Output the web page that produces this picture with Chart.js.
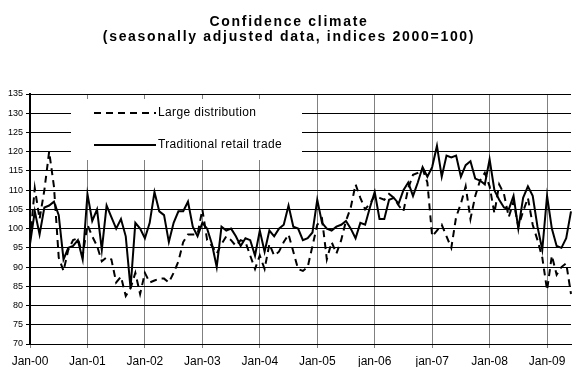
<!DOCTYPE html>
<html>
<head>
<meta charset="utf-8">
<script src="https://cdn.jsdelivr.net/npm/chart.js@4/dist/chart.umd.min.js"></script>
<style>
  html, body { margin: 0; padding: 0; background: #ffffff; }
  #wrap { width: 577px; height: 367px; position: relative; }
</style>
</head>
<body>
<div id="wrap"><canvas id="chart" width="577" height="367"></canvas></div>
<script>
// Axis labels shown once a year
const yearLabels = ['Jan-00', 'Jan-01', 'Jan-02', 'Jan-03', 'Jan-04', 'Jan-05', 'jan-06', 'jan-07', 'Jan-08', 'Jan-09'];
const monthNames = ['Jan', 'Feb', 'Mar', 'Apr', 'May', 'Jun', 'Jul', 'Aug', 'Sep', 'Oct', 'Nov', 'Dec'];
const monthCount = 114; // Jan 2000 .. Jun 2009

const titleLines = ['Confidence climate', '(seasonally adjusted data, indices 2000=100)'];
const seriesNames = ['Large distribution', 'Traditional retail trade'];

// Monthly confidence indices, 2000 = 100
const largeDistribution = [
  97, 110.5, 102.5, 110, 120, 111, 92.5, 89, 94.5, 97, 97.5, 93,
  101, 98, 95.5, 91.5, 92.5, 92, 86, 87.5, 82.5, 84.5, 88.5, 83,
  88.5, 86, 86.5, 87, 87, 86, 88.5, 91.5, 96.5, 98.5, 98.5, 98.5,
  105, 97, 95.5, 93.5, 96, 98, 97, 95.5, 97, 96.5, 93, 89.5,
  93, 89.5, 96, 93, 94, 96.5, 98.5, 94, 89.5, 89, 90, 95.5,
  101, 102.5, 92, 96.5, 93.5, 97, 102, 105.5, 111.5, 108, 105, 106.5,
  108.5, 108, 107.5, 109, 108, 106, 104.5, 110.5, 114, 114.5, 115.5, 112,
  98, 99.5, 101, 98, 95, 103, 106.5, 111, 102.5, 108.5, 112.5, 114.5,
  111, 104, 111.5, 109, 103, 107, 100.5, 104.5, 108, 101, 97, 92.5,
  84, 93, 88, 90, 91, 83
];

const traditionalRetail = [
  96, 104.5, 98.5, 105.5, 106, 107, 103.5, 92, 95, 95.5, 97, 92,
  109, 102, 105, 94.5, 106, 103, 100, 102.5, 98, 84.5, 101.5, 100,
  97.5, 101.5, 109.5, 104.5, 103.5, 96.5, 101.5, 104.5, 104.5, 107, 100.5, 98,
  101.5, 100, 96, 90, 100.5, 99.5, 100, 98, 95.5, 97.5, 97, 93,
  99.5, 94, 99.5, 98, 100, 101, 106, 100.5, 100, 97, 97.5, 99,
  107.5, 101.5, 100, 99.5, 100.5, 101, 102, 100, 97.5, 101.5, 101, 105.5,
  109.5, 102.5, 102.5, 107.5, 108, 106.5, 110, 112, 108.5, 112, 116, 113.5,
  116, 121.5, 113.5, 119, 118.5, 119, 113.5, 116.5, 117.5, 113, 112.5, 111.5,
  118, 110, 107.5, 105.5, 105, 108.5, 100, 108, 111, 108.5, 100.5, 94.5,
  108.5, 100, 95.5, 95, 97.5, 104.5
];

const monthLabels = [];
for (let i = 0; i < monthCount; i++) {
  monthLabels.push(monthNames[i % 12] + '-' + String(i / 12 | 0).padStart(2, '0'));
}

const FONT = "'Liberation Sans', Arial, sans-serif";

// Two-line bold heading with wide letter spacing
const titlePlugin = {
  id: 'headingText',
  afterDraw(chart) {
    const ctx = chart.ctx;
    ctx.save();
    ctx.fillStyle = '#000';
    ctx.font = 'bold 14px ' + FONT;
    ctx.letterSpacing = '1.7px';
    ctx.textAlign = 'center';
    ctx.textBaseline = 'middle';
    const cx = 289;
    ctx.fillText(titleLines[0], cx, 22);
    ctx.fillText(titleLines[1], cx, 37);
    ctx.restore();
  }
};

// Legend panel sitting inside the plot area, top left
const legendPlugin = {
  id: 'insetLegend',
  afterDatasetsDraw(chart) {
    const ctx = chart.ctx;
    const box = { x: 71, y: 99, w: 231, h: 61 };
    ctx.save();
    ctx.fillStyle = '#ffffff';
    ctx.fillRect(box.x, box.y, box.w, box.h);
    const rows = [
      { y: 113, dash: [7, 5], label: seriesNames[0] },
      { y: 145, dash: [], label: seriesNames[1] }
    ];
    ctx.strokeStyle = '#000';
    ctx.lineWidth = 2;
    ctx.fillStyle = '#000';
    ctx.font = '12px ' + FONT;
    ctx.letterSpacing = '0.35px';
    ctx.textBaseline = 'middle';
    ctx.textAlign = 'left';
    rows.forEach(r => {
      ctx.setLineDash(r.dash);
      ctx.beginPath();
      ctx.moveTo(94, r.y);
      ctx.lineTo(156, r.y);
      ctx.stroke();
      ctx.setLineDash([]);
      ctx.fillText(r.label, 158, r.y);
    });
    ctx.restore();
  }
};

new Chart(document.getElementById('chart'), {
  type: 'line',
  data: {
    labels: monthLabels,
    datasets: [
      {
        label: seriesNames[0],
        data: largeDistribution,
        borderColor: '#000',
        borderWidth: 2,
        borderDash: [7, 5],
        pointRadius: 0,
        tension: 0,
        fill: false
      },
      {
        label: seriesNames[1],
        data: traditionalRetail,
        borderColor: '#000',
        borderWidth: 2,
        pointRadius: 0,
        tension: 0,
        fill: false
      }
    ]
  },
  options: {
    responsive: false,
    animation: false,
    events: [],
    layout: { padding: { top: 94, right: 1, left: 0, bottom: 0 } },
    plugins: {
      legend: { display: false },
      title: { display: false },
      tooltip: { enabled: false }
    },
    scales: {
      x: {
        type: 'category',
        offset: false,
        grid: {
          color: c => (c.index % 12 === 0 ? '#808080' : 'rgba(0,0,0,0)'),
          lineWidth: 1,
          drawTicks: true,
          tickLength: 4
        },
        border: { display: true, color: '#000', width: 1 },
        ticks: {
          autoSkip: false,
          maxRotation: 0,
          minRotation: 0,
          padding: 6,
          color: '#000',
          font: { family: FONT, size: 12 },
          callback: (v, i) => (i % 12 === 0 ? yearLabels[i / 12] : '')
        },
        afterFit: s => { s.height = 23; }
      },
      y: {
        min: 70,
        max: 135,
        grid: { color: '#000', lineWidth: 1, tickLength: 4 },
        border: { display: true, color: '#000', width: 2 },
        ticks: {
          stepSize: 5,
          padding: 3,
          color: '#000',
          font: { family: FONT, size: 9 }
        },
        afterFit: s => { s.width = 30; }
      }
    }
  },
  plugins: [titlePlugin, legendPlugin]
});
</script>
</body>
</html>
